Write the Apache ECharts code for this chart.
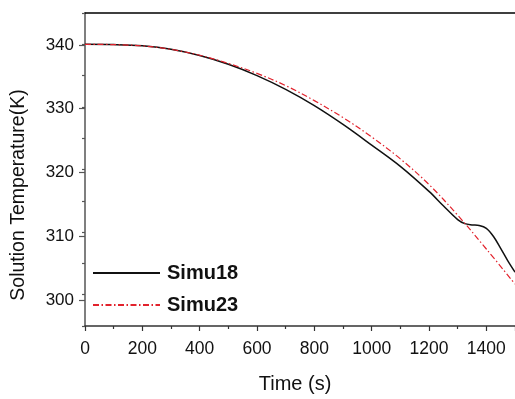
<!DOCTYPE html>
<html><head><meta charset="utf-8">
<script src="https://cdn.jsdelivr.net/npm/echarts@6/dist/echarts.min.js"></script>
<style>html,body{margin:0;padding:0;background:#fff}#c{width:515px;height:399px}</style>
</head><body><div id="c"></div>
<script>
// ---- data ----
const simu18Time = [0,100,200,300,400,500,600,700,800,900,1000,1100,1200,1250,1300,1325,1350,1375,1400,1425,1450,1475,1500];
const simu18Temp = [340.0,339.95,339.75,339.2,338.2,336.8,335.0,332.8,330.2,327.2,323.9,320.5,316.5,314.2,312.0,311.35,311.15,311.05,310.6,309.3,307.4,305.4,303.6];
const simu23Time = [0,100,200,300,400,500,600,700,800,900,1000,1100,1200,1300,1400,1500];
const simu23Temp = [340.0,339.95,339.75,339.2,338.25,336.95,335.35,333.4,331.0,328.3,325.2,321.7,317.6,312.7,307.3,301.7];
const seriesNames = ['Simu18','Simu23'];
const xMin = 0, xMax = 1500, xStep = 200;
const yMin = 295, yMax = 345, yStep = 10, yLabelMin = 300, yLabelMax = 340;
const xTitle = 'Time (s)';
const yTitle = 'Solution Temperature(K)';

// ---- layout ----
const W = 515, H = 399;
const gTop = 13, gBottom = 67, gLeft = 85, gRight = -5;
const gH = H - gTop - gBottom;
const pxPerUnit = gH / (yMax - yMin);
const g2Top = gTop + (yMax - yLabelMax) * pxPerUnit;
const g2Bottom = gBottom + (yLabelMin - yMin) * pxPerUnit;
const FONT = 'Liberation Sans, Arial, Helvetica, sans-serif';

const zip = (xs, ys) => xs.map((x, i) => [x, ys[i]]);

const chart = echarts.init(document.getElementById('c'), null, {renderer: 'canvas'});
chart.setOption({
  animation: false,
  backgroundColor: '#fff',
  grid: [
    {left: gLeft, right: gRight, top: gTop, bottom: gBottom, containLabel: false},
    {left: gLeft, right: gRight, top: g2Top, bottom: g2Bottom, containLabel: false}
  ],
  xAxis: [
    {
      type: 'value', gridIndex: 0, position: 'bottom', min: xMin, max: xMax, interval: xStep,
      name: xTitle, nameLocation: 'middle', nameGap: 48,
      nameTextStyle: {fontFamily: FONT, fontSize: 20, color: '#111', padding: [0, 10, 0, 0]},
      axisLine: {show: true, onZero: false, lineStyle: {color: '#333', width: 1.5}},
      axisTick: {show: true, inside: false, length: 5, lineStyle: {color: '#333', width: 1.2}},
      minorTick: {show: true, splitNumber: 2, length: 3, lineStyle: {color: '#333', width: 1.2}},
      axisLabel: {fontFamily: FONT, fontSize: 17.5, color: '#111', margin: 14, showMaxLabel: false,
                  formatter: v => String(v)},
      splitLine: {show: false}
    },
    {
      type: 'value', gridIndex: 0, position: 'top', min: xMin, max: xMax,
      axisLine: {show: true, onZero: false, lineStyle: {color: '#000', width: 1.5}},
      axisTick: {show: false}, axisLabel: {show: false}, splitLine: {show: false}
    },
    {
      type: 'value', gridIndex: 1, min: xMin, max: xMax, show: false
    }
  ],
  yAxis: [
    {
      type: 'value', gridIndex: 0, min: yMin, max: yMax, interval: yStep / 2,
      axisLine: {show: true, onZero: false, lineStyle: {color: '#555', width: 1.5}},
      axisTick: {show: true, inside: false, length: 3, lineStyle: {color: '#555', width: 1.2}},
      axisLabel: {show: false}, splitLine: {show: false}
    },
    {
      type: 'value', gridIndex: 1, min: yLabelMin, max: yLabelMax, interval: yStep,
      axisLine: {show: false},
      axisTick: {show: true, inside: false, length: 6, lineStyle: {color: '#555', width: 1.2}},
      axisLabel: {fontFamily: FONT, fontSize: 17, color: '#111', margin: 11, formatter: v => String(v)},
      splitLine: {show: false}
    }
  ],
  legend: {
    orient: 'vertical', left: 87, top: 258, itemWidth: 67, itemHeight: 20, itemGap: 12,
    data: seriesNames,
    itemStyle: {opacity: 0},
    textStyle: {fontFamily: FONT, fontSize: 20, fontWeight: 'bold', color: '#111', padding: [0, 0, 0, 2]}
  },
  graphic: [{
    type: 'text', x: 19, y: 195, rotation: Math.PI / 2,
    style: {text: yTitle, fontFamily: FONT, fontSize: 19.5, fill: '#111', align: 'center', verticalAlign: 'middle'}
  }],
  series: [
    {
      name: seriesNames[0], type: 'line', xAxisIndex: 0, yAxisIndex: 0,
      data: zip(simu18Time, simu18Temp), smooth: 0.35, symbol: 'none', showSymbol: false,
      lineStyle: {color: '#111', width: 1.5}, itemStyle: {color: '#111'}
    },
    {
      name: seriesNames[1], type: 'line', xAxisIndex: 0, yAxisIndex: 0,
      data: zip(simu23Time, simu23Temp), smooth: 0.35, symbol: 'none', showSymbol: false,
      lineStyle: {color: '#e2222c', width: 1.2, type: [6, 2.5, 1.5, 2.5]}, itemStyle: {color: '#e2222c'}
    }
  ]
});
</script>
</body></html>
